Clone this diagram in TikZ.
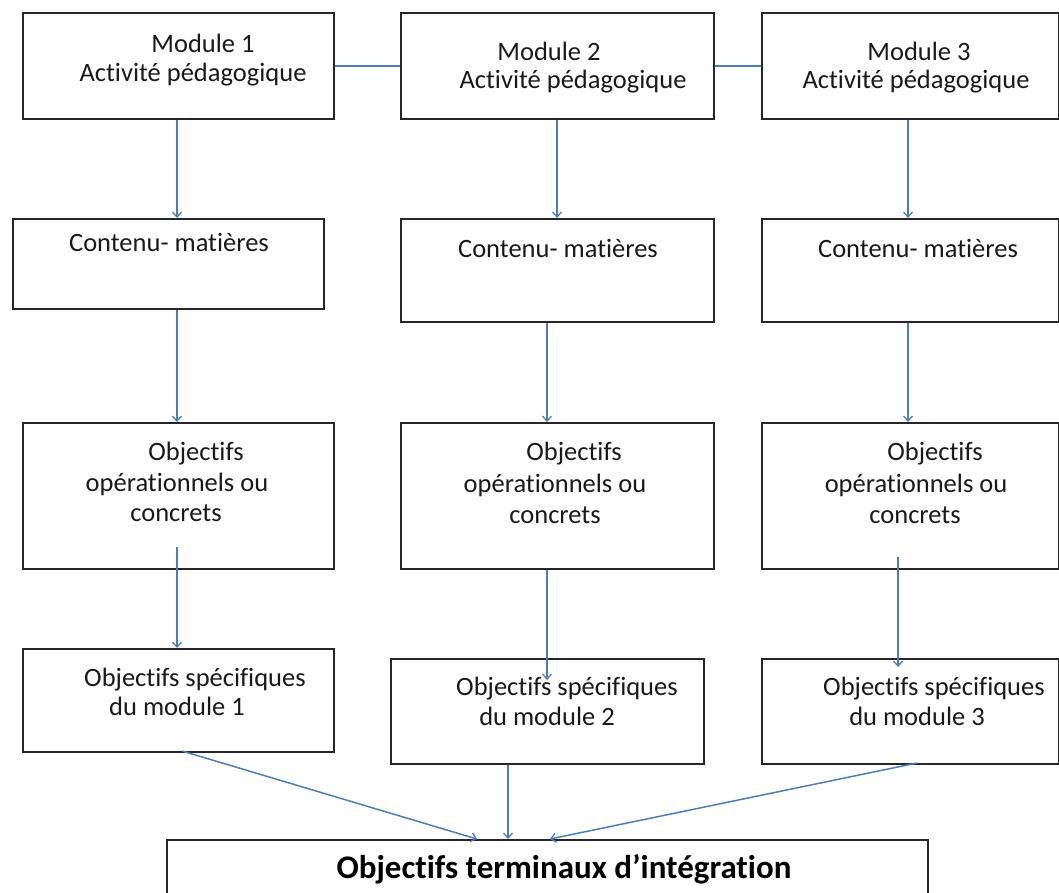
\documentclass[tikz,border=0pt]{standalone}
\usepackage{fontspec}
\setmainfont[Ligatures={NoCommon}]{Carlito}
\usetikzlibrary{arrows.meta}
\definecolor{linkblue}{RGB}{74,126,187}
\tikzset{
  boxnode/.style={draw=black!85, line width=1.6pt, fill=none, inner sep=0pt, anchor=north west},
  txt/.style={font=\fontsize{26.5}{30}\selectfont, anchor=base, inner sep=0pt, text=black!90},
  btxt/.style={font=\fontsize{33}{37}\selectfont\bfseries, anchor=base, inner sep=0pt, text=black},
  link/.style={draw=linkblue, line width=1.5pt},
  arr/.style={link, -{Straight Barb[length=5pt,width=9pt,line width=1.3pt]}}
}
\begin{document}
\begin{tikzpicture}[x=1pt,y=-1pt]
\useasboundingbox (0,0) rectangle (1059,892);
\clip (0,0) rectangle (1059,892);
% row 1
\node[boxnode, minimum width=311pt, minimum height=106pt] (b11) at (22,12) {};
\node[boxnode, minimum width=313pt, minimum height=106pt] (b12) at (400,12) {};
\node[boxnode, minimum width=297pt, minimum height=106pt] (b13) at (761,12) {};
% row 2
\node[boxnode, minimum width=311pt, minimum height=90pt] (b21) at (12,218) {};
\node[boxnode, minimum width=313pt, minimum height=103pt] (b22) at (400,218) {};
\node[boxnode, minimum width=297pt, minimum height=103pt] (b23) at (761,218) {};
% row 3
\node[boxnode, minimum width=311pt, minimum height=146pt] (b31) at (22,422) {};
\node[boxnode, minimum width=313pt, minimum height=146pt] (b32) at (400,422) {};
\node[boxnode, minimum width=297pt, minimum height=146pt] (b33) at (761,422) {};
% row 4
\node[boxnode, minimum width=311pt, minimum height=103pt] (b41) at (22,648) {};
\node[boxnode, minimum width=313pt, minimum height=105pt] (b42) at (390,658) {};
\node[boxnode, minimum width=297pt, minimum height=105pt] (b43) at (761,658) {};
% bottom
\node[boxnode, minimum width=761pt, minimum height=90pt] (b5) at (166,839) {};

% texts
\node[txt] (t11a) at (203,52) {Module 1};
\node[txt] (t11b) at (193,81) {Activité pédagogique};
\node[txt] (t12a) at (549,60) {Module 2};
\node[txt] (t12b) at (573,88) {Activité pédagogique};
\node[txt] (t13a) at (919,60) {Module 3};
\node[txt] (t13b) at (916,88) {Activité pédagogique};

\node[txt] (t21) at (169,251) {Contenu- matières};
\node[txt] (t22) at (558,257) {Contenu- matières};
\node[txt] (t23) at (918,257) {Contenu- matières};

\node[txt] (t31a) at (196,460) {Objectifs};
\node[txt] (t31b) at (177,491) {opérationnels ou};
\node[txt] (t31c) at (176,521) {concrets};
\node[txt] (t32a) at (574,460) {Objectifs};
\node[txt] (t32b) at (555,492) {opérationnels ou};
\node[txt] (t32c) at (555,523) {concrets};
\node[txt] (t33a) at (935,460) {Objectifs};
\node[txt] (t33b) at (916,492) {opérationnels ou};
\node[txt] (t33c) at (915,523) {concrets};

\node[txt] (t41a) at (195,686) {Objectifs spécifiques};
\node[txt] (t41b) at (177,715) {du module 1};
\node[txt] (t42a) at (567,695) {Objectifs spécifiques};
\node[txt] (t42b) at (547,725) {du module 2};
\node[txt] (t43a) at (934,695) {Objectifs spécifiques};
\node[txt] (t43b) at (917,725) {du module 3};

\node[btxt] (t5) at (564,878) {Objectifs terminaux d’intégration};

% helper coordinates
\coordinate (x1) at (177,0);
\coordinate (x2) at (547,0);
\coordinate (x2b) at (557,0);
\coordinate (x3) at (908,0);
\coordinate (xm) at (508,0);
\coordinate (c31s) at (177,547);
\coordinate (c42e) at (547,680);
\coordinate (c33s) at (898,557);
\coordinate (c43e) at (898,667);
\coordinate (c41s) at (182,751);
\coordinate (c43s) at (917,763);
\coordinate (e1) at (477,839);
\coordinate (e3) at (550,839);

% connectors row 1
\draw[link] (b11.east) -- (b12.west);
\draw[link] (b12.east) -- (b13.west);
% row1 -> row2
\draw[arr] (b11.south -| x1) -- (b21.north -| x1);
\draw[arr] (b12.south -| x2b) -- (b22.north -| x2b);
\draw[arr] (b13.south -| x3) -- (b23.north -| x3);
% row2 -> row3
\draw[arr] (b21.south -| x1) -- (b31.north -| x1);
\draw[arr] (b22.south -| x2) -- (b32.north -| x2);
\draw[arr] (b23.south -| x3) -- (b33.north -| x3);
% row3 -> row4
\draw[arr] (c31s) -- (b41.north -| x1);
\draw[arr] (b32.south -| x2) -- (c42e);
\draw[arr] (c33s) -- (c43e);
% row4 -> bottom
\draw[arr] (c41s) -- (e1);
\draw[arr] (b42.south -| xm) -- (b5.north -| xm);
\draw[arr] (c43s) -- (e3);
\end{tikzpicture}
\end{document}
